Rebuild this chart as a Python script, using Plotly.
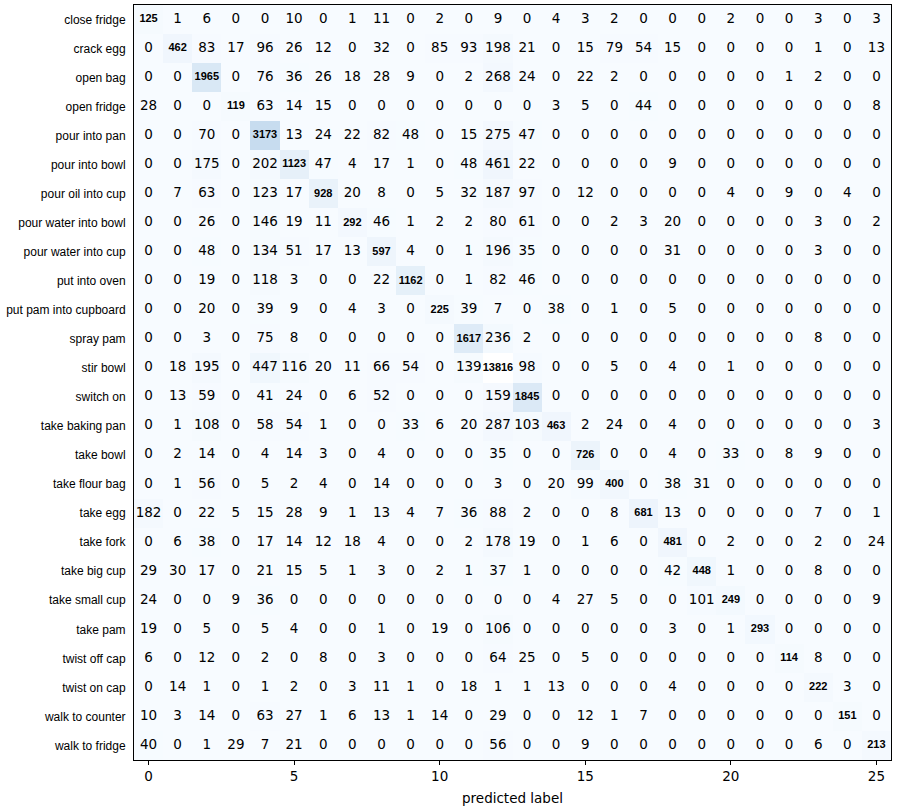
import plotly.graph_objects as go

labels = ['close fridge', 'crack egg', 'open bag', 'open fridge', 'pour into pan',
          'pour into bowl', 'pour oil into cup', 'pour water into bowl',
          'pour water into cup', 'put into oven', 'put pam into cupboard',
          'spray pam', 'stir bowl', 'switch on', 'take baking pan', 'take bowl',
          'take flour bag', 'take egg', 'take fork', 'take big cup',
          'take small cup', 'take pam', 'twist off cap', 'twist on cap',
          'walk to counter', 'walk to fridge']

close_fridge = [125, 1, 6, 0, 0, 10, 0, 1, 11, 0, 2, 0, 9, 0, 4, 3, 2, 0, 0, 0, 2, 0, 0, 3, 0, 3]
crack_egg = [0, 462, 83, 17, 96, 26, 12, 0, 32, 0, 85, 93, 198, 21, 0, 15, 79, 54, 15, 0, 0, 0, 0, 1, 0, 13]
open_bag = [0, 0, 1965, 0, 76, 36, 26, 18, 28, 9, 0, 2, 268, 24, 0, 22, 2, 0, 0, 0, 0, 0, 1, 2, 0, 0]
open_fridge = [28, 0, 0, 119, 63, 14, 15, 0, 0, 0, 0, 0, 0, 0, 3, 5, 0, 44, 0, 0, 0, 0, 0, 0, 0, 8]
pour_into_pan = [0, 0, 70, 0, 3173, 13, 24, 22, 82, 48, 0, 15, 275, 47, 0, 0, 0, 0, 0, 0, 0, 0, 0, 0, 0, 0]
pour_into_bowl = [0, 0, 175, 0, 202, 1123, 47, 4, 17, 1, 0, 48, 461, 22, 0, 0, 0, 0, 9, 0, 0, 0, 0, 0, 0, 0]
pour_oil_into_cup = [0, 7, 63, 0, 123, 17, 928, 20, 8, 0, 5, 32, 187, 97, 0, 12, 0, 0, 0, 0, 4, 0, 9, 0, 4, 0]
pour_water_into_bowl = [0, 0, 26, 0, 146, 19, 11, 292, 46, 1, 2, 2, 80, 61, 0, 0, 2, 3, 20, 0, 0, 0, 0, 3, 0, 2]
pour_water_into_cup = [0, 0, 48, 0, 134, 51, 17, 13, 597, 4, 0, 1, 196, 35, 0, 0, 0, 0, 31, 0, 0, 0, 0, 3, 0, 0]
put_into_oven = [0, 0, 19, 0, 118, 3, 0, 0, 22, 1162, 0, 1, 82, 46, 0, 0, 0, 0, 0, 0, 0, 0, 0, 0, 0, 0]
put_pam_into_cupboard = [0, 0, 20, 0, 39, 9, 0, 4, 3, 0, 225, 39, 7, 0, 38, 0, 1, 0, 5, 0, 0, 0, 0, 0, 0, 0]
spray_pam = [0, 0, 3, 0, 75, 8, 0, 0, 0, 0, 0, 1617, 236, 2, 0, 0, 0, 0, 0, 0, 0, 0, 0, 8, 0, 0]
stir_bowl = [0, 18, 195, 0, 447, 116, 20, 11, 66, 54, 0, 139, 13816, 98, 0, 0, 5, 0, 4, 0, 1, 0, 0, 0, 0, 0]
switch_on = [0, 13, 59, 0, 41, 24, 0, 6, 52, 0, 0, 0, 159, 1845, 0, 0, 0, 0, 0, 0, 0, 0, 0, 0, 0, 0]
take_baking_pan = [0, 1, 108, 0, 58, 54, 1, 0, 0, 33, 6, 20, 287, 103, 463, 2, 24, 0, 4, 0, 0, 0, 0, 0, 0, 3]
take_bowl = [0, 2, 14, 0, 4, 14, 3, 0, 4, 0, 0, 0, 35, 0, 0, 726, 0, 0, 4, 0, 33, 0, 8, 9, 0, 0]
take_flour_bag = [0, 1, 56, 0, 5, 2, 4, 0, 14, 0, 0, 0, 3, 0, 20, 99, 400, 0, 38, 31, 0, 0, 0, 0, 0, 0]
take_egg = [182, 0, 22, 5, 15, 28, 9, 1, 13, 4, 7, 36, 88, 2, 0, 0, 8, 681, 13, 0, 0, 0, 0, 7, 0, 1]
take_fork = [0, 6, 38, 0, 17, 14, 12, 18, 4, 0, 0, 2, 178, 19, 0, 1, 6, 0, 481, 0, 2, 0, 0, 2, 0, 24]
take_big_cup = [29, 30, 17, 0, 21, 15, 5, 1, 3, 0, 2, 1, 37, 1, 0, 0, 0, 0, 42, 448, 1, 0, 0, 8, 0, 0]
take_small_cup = [24, 0, 0, 9, 36, 0, 0, 0, 0, 0, 0, 0, 0, 0, 4, 27, 5, 0, 0, 101, 249, 0, 0, 0, 0, 9]
take_pam = [19, 0, 5, 0, 5, 4, 0, 0, 1, 0, 19, 0, 106, 0, 0, 0, 0, 0, 3, 0, 1, 293, 0, 0, 0, 0]
twist_off_cap = [6, 0, 12, 0, 2, 0, 8, 0, 3, 0, 0, 0, 64, 25, 0, 5, 0, 0, 0, 0, 0, 0, 114, 8, 0, 0]
twist_on_cap = [0, 14, 1, 0, 1, 2, 0, 3, 11, 1, 0, 18, 1, 1, 13, 0, 0, 0, 4, 0, 0, 0, 0, 222, 3, 0]
walk_to_counter = [10, 3, 14, 0, 63, 27, 1, 6, 13, 1, 14, 0, 29, 0, 0, 12, 1, 7, 0, 0, 0, 0, 0, 0, 151, 0]
walk_to_fridge = [40, 0, 1, 29, 7, 21, 0, 0, 0, 0, 0, 0, 56, 0, 0, 9, 0, 0, 0, 0, 0, 0, 0, 6, 0, 213]

cm = [close_fridge, crack_egg, open_bag, open_fridge, pour_into_pan, pour_into_bowl,
      pour_oil_into_cup, pour_water_into_bowl, pour_water_into_cup, put_into_oven,
      put_pam_into_cupboard, spray_pam, stir_bowl, switch_on, take_baking_pan,
      take_bowl, take_flour_bag, take_egg, take_fork, take_big_cup, take_small_cup,
      take_pam, twist_off_cap, twist_on_cap, walk_to_counter, walk_to_fridge]

n = len(labels)
zmax = max(max(r) for r in cm)
vmax = 13000  # colours saturate here, anything above is drawn white

# matplotlib Blues, squeezed into [0, vmax/zmax], then white above
blues = ['#f7fbff', '#deebf7', '#c6dbef', '#9ecae1', '#6baed6',
         '#4292c6', '#2171b5', '#08519c', '#08306b']
top = vmax / zmax
cscale = [[top * i / 8, c] for i, c in enumerate(blues)]
cscale.append([min(top + 1e-6, 1), '#ffffff'])
cscale.append([1, '#ffffff'])

fig = go.Figure()
fig.add_heatmap(z=cm, x=list(range(n)), y=list(range(n)), colorscale=cscale,
                zmin=0, zmax=zmax, showscale=False, hoverinfo='skip')

# cell texts
ox, oy, ot, dx, dy, dt = [], [], [], [], [], []
for i in range(n):
    for j in range(n):
        if i == j:
            dx.append(j); dy.append(i); dt.append(str(cm[i][j]))
        else:
            ox.append(j); oy.append(i); ot.append(str(cm[i][j]))

fig.add_scatter(x=ox, y=oy, text=ot, mode='text', hoverinfo='skip',
                textfont=dict(family='DejaVu Sans', size=13.5, color='black'))
fig.add_scatter(x=dx, y=dy, text=dt, mode='text', hoverinfo='skip',
                textfont=dict(family='Liberation Sans', size=11, color='black',
                              weight='bold'))

fig.update_layout(
    width=899, height=808,
    margin=dict(l=134, r=8, t=4, b=46),
    paper_bgcolor='white', plot_bgcolor='white',
    showlegend=False,
)
fig.update_xaxes(range=[-0.5, n - 0.5], tickvals=[0, 5, 10, 15, 20, 25],
                 ticks='outside', ticklen=4, tickcolor='black',
                 tickfont=dict(family='DejaVu Sans', size=13.5, color='black'),
                 showline=True, linecolor='black', linewidth=1, mirror=True,
                 showgrid=False, zeroline=False,
                 title=dict(text='predicted label', standoff=10,
                            font=dict(family='DejaVu Sans', size=13.5, color='black')))
fig.update_yaxes(range=[n - 0.5, -0.5], tickvals=list(range(n)), ticktext=labels,
                 ticks='', ticklabelstandoff=5,
                 tickfont=dict(family='Liberation Sans', size=12, color='black'),
                 showline=True, linecolor='black', linewidth=1, mirror=True,
                 showgrid=False, zeroline=False)

fig.write_html("out.html", config={'displayModeBar': False},
               post_script="document.body.style.margin='0';")
